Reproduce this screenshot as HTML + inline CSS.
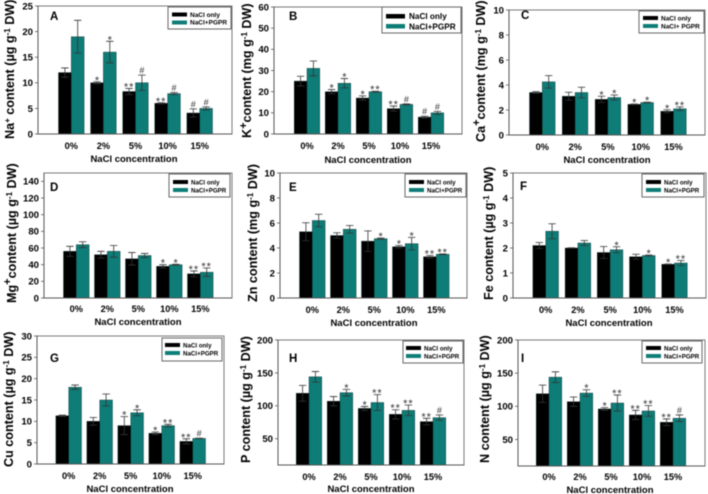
<!DOCTYPE html>
<html lang="en">
<head>
<meta charset="utf-8">
<title>NaCl and PGPR mineral content panels</title>
<style>
html,body{margin:0;padding:0;background:#fff;width:708px;height:494px;overflow:hidden}
svg{display:block;filter:blur(0.45px)}
text{font-family:"Liberation Sans",Arial,sans-serif;fill:#000}
.yt{font-size:12.6px;font-weight:700;letter-spacing:0}
.xt{font-size:9.5px;font-weight:700}
.lg{font-size:6.5px;font-weight:700}
.pl{font-size:11.5px;font-weight:700}
.lb{fill:#fff;stroke:#666;stroke-width:1}
.sw0{fill:#000}
.sw1{fill:#0e7c77}
</style>
</head>
<body>
<svg id="fig" xmlns="http://www.w3.org/2000/svg" width="708" height="494" viewBox="0 0 708 494">
<rect width="708" height="494" fill="#fff"/>
<g id="plots"></g>

<g>
<text class="pl" x="50" y="20">A</text>
<text class="xt" x="134" y="162" text-anchor="middle">NaCl concentration</text>
<text class="yt" transform="translate(14,139) rotate(-90)">Na<tspan dy="-4" font-size="8">+</tspan><tspan dy="4"> content (µg g</tspan><tspan dy="-4" font-size="8">-1</tspan><tspan dy="4"> DW)</tspan></text>
<g><rect class="lb" x="168" y="7" width="63" height="22"/><rect class="sw0" x="172" y="12.5" width="15" height="4"/><rect class="sw1" x="172" y="20.5" width="15" height="4"/><text class="lg" x="190" y="17">NaCl only</text><text class="lg" x="190" y="24.6">NaCl+PGPR</text></g>
</g>

<g>
<text class="pl" x="289" y="20">B</text>
<text class="xt" x="368" y="163" text-anchor="middle">NaCl concentration</text>
<text class="yt" transform="translate(251,138) rotate(-90)">K<tspan dy="-4" font-size="11">+</tspan><tspan dy="4">content (mg g</tspan><tspan dy="-4" font-size="8">-1</tspan><tspan dy="4"> DW)</tspan></text>
<g><rect class="lb" x="382" y="7" width="79" height="26"/><rect class="sw0" x="386" y="14" width="19" height="4.5"/><rect class="sw1" x="386" y="24" width="19" height="4.5"/><text class="lg" style="font-size:8.2px" x="409" y="19">NaCl only</text><text class="lg" style="font-size:8.2px" x="409" y="29.5">NaCl+PGPR</text></g>
</g>

<g>
<text class="pl" x="521" y="19">C</text>
<text class="xt" x="607" y="163" text-anchor="middle">NaCl concentration</text>
<text class="yt" transform="translate(485,142) rotate(-90)">Ca<tspan dy="-5" font-size="11">+</tspan><tspan dy="5">content (mg g</tspan><tspan dy="-4" font-size="8">-1</tspan><tspan dy="4"> DW)</tspan></text>
<g><rect class="lb" x="639" y="11" width="65" height="22"/><rect class="sw0" x="643" y="16" width="15" height="4"/><rect class="sw1" x="643" y="24" width="15" height="4"/><text class="lg" x="661" y="20.6">NaCl only</text><text class="lg" x="661" y="28.6">NaCl+ PGPR</text></g>
</g>

<g>
<text class="pl" x="50" y="191">D</text>
<text class="xt" x="138" y="325" text-anchor="middle">NaCl concentration</text>
<text class="yt" transform="translate(16,303) rotate(-90)">Mg<tspan dy="-5" font-size="11">+</tspan><tspan dy="5">content (µg g</tspan><tspan dy="-4" font-size="8">-1</tspan><tspan dy="4"> DW)</tspan></text>
<g><rect class="lb" x="169" y="174" width="61" height="23"/><rect class="sw0" x="173" y="180" width="15" height="4"/><rect class="sw1" x="173" y="188" width="15" height="4"/><text class="lg" style="font-size:6.2px" x="191" y="184.5">NaCl only</text><text class="lg" style="font-size:6.2px" x="191" y="192.5">NaCl+PGPR</text></g>
</g>

<g>
<text class="pl" x="289" y="191">E</text>
<text class="xt" x="374" y="326" text-anchor="middle">NaCl concentration</text>
<text class="yt" transform="translate(257,302) rotate(-90)">Zn content (mg g<tspan dy="-4" font-size="8">-1</tspan><tspan dy="4"> DW)</tspan></text>
<g><rect class="lb" x="405" y="174" width="61" height="23"/><rect class="sw0" x="409" y="180" width="15" height="4"/><rect class="sw1" x="409" y="188" width="15" height="4"/><text class="lg" style="font-size:6.2px" x="427" y="184.5">NaCl only</text><text class="lg" style="font-size:6.2px" x="427" y="192.5">NaCl+PGPR</text></g>
</g>

<g>
<text class="pl" x="520" y="190">F</text>
<text class="xt" x="609" y="326" text-anchor="middle">NaCl concentration</text>
<text class="yt" transform="translate(493,300) rotate(-90)">Fe content (µg g<tspan dy="-4" font-size="8">-1</tspan><tspan dy="4"> DW)</tspan></text>
<g><rect class="lb" x="642" y="174" width="62" height="23"/><rect class="sw0" x="646" y="180" width="15" height="4"/><rect class="sw1" x="646" y="188" width="15" height="4"/><text class="lg" style="font-size:6.2px" x="664" y="184.5">NaCl only</text><text class="lg" style="font-size:6.2px" x="664" y="192.5">NaCl+PGPR</text></g>
</g>

<g>
<text class="pl" x="50" y="362">G</text>
<text class="xt" x="130" y="492" text-anchor="middle">NaCl concentration</text>
<text class="yt" transform="translate(13,467) rotate(-90)">Cu content (µg g<tspan dy="-4" font-size="8">-1</tspan><tspan dy="4"> DW)</tspan></text>
<g><rect class="lb" x="162" y="338" width="60" height="23"/><rect class="sw0" x="165" y="343" width="15" height="4"/><rect class="sw1" x="165" y="351" width="15" height="4"/><text class="lg" style="font-size:6.2px" x="183" y="347.5">NaCl only</text><text class="lg" style="font-size:6.2px" x="183" y="355.5">NaCl+PGPR</text></g>
</g>

<g>
<text class="pl" x="289" y="362">H</text>
<text class="xt" x="371" y="492" text-anchor="middle">NaCl concentration</text>
<text class="yt" transform="translate(250,463) rotate(-90)">P content (µg g<tspan dy="-4" font-size="8">-1</tspan><tspan dy="4"> DW)</tspan></text>
<g><rect class="lb" x="403" y="341" width="60" height="22"/><rect class="sw0" x="406" y="346" width="15" height="4"/><rect class="sw1" x="406" y="354" width="15" height="4"/><text class="lg" style="font-size:6.2px" x="424" y="350.5">NaCl only</text><text class="lg" style="font-size:6.2px" x="424" y="358.5">NaCl+PGPR</text></g>
</g>

<g>
<text class="pl" x="521" y="362">I</text>
<text class="xt" x="610" y="493" text-anchor="middle">NaCl concentration</text>
<text class="yt" transform="translate(489,463) rotate(-90)">N content (µg g<tspan dy="-4" font-size="8">-1</tspan><tspan dy="4"> DW)</tspan></text>
<g><rect class="lb" x="642" y="341" width="60" height="22"/><rect class="sw0" x="646" y="346" width="15" height="4"/><rect class="sw1" x="646" y="354" width="15" height="4"/><text class="lg" style="font-size:6.2px" x="664" y="350.5">NaCl only</text><text class="lg" style="font-size:6.2px" x="664" y="358.5">NaCl+PGPR</text></g>
</g>
</svg>

<script>
const categories = ['0%', '2%', '5%', '10%', '15%'];

const naOnly = [12, 10, 8.3, 6, 4.1];
const naOnlyErr = [0.9, 0.2, 0.6, 0.1, 0.8];
const naPgpr = [19, 16, 10, 7.9, 5];
const naPgprErr = [3.2, 2.1, 1.5, 0.2, 0.3];
const naOnlyMarks = ['', '*', '**', '**', '#'];
const naPgprMarks = ['', '*', '#', '#', '#'];
const naTicks = [0, 5, 10, 15, 20, 25];

const kOnly = [25, 20, 17, 12, 8];
const kOnlyErr = [2.3, 1, 1, 1.2, 0.4];
const kPgpr = [31, 24, 20, 14, 10];
const kPgprErr = [3.5, 2.2, 0.2, 0.2, 0.7];
const kOnlyMarks = ['', '*', '*', '**', '#'];
const kPgprMarks = ['', '*', '**', '#', '#'];
const kTicks = [0, 10, 20, 30, 40, 50, 60];

const caOnly = [3.4, 3.1, 2.85, 2.45, 1.9];
const caOnlyErr = [0.07, 0.32, 0.25, 0.03, 0.12];
const caPgpr = [4.25, 3.4, 3, 2.6, 2.1];
const caPgprErr = [0.5, 0.42, 0.2, 0.03, 0.15];
const caOnlyMarks = ['', '', '*', '*', '*'];
const caPgprMarks = ['', '', '*', '*', '**'];
const caTicks = [0, 2, 4, 6, 8, 10];

const mgOnly = [56, 52, 47, 38, 29];
const mgOnlyErr = [6, 4, 7.5, 2, 3.5];
const mgPgpr = [64, 56, 51, 40, 31];
const mgPgprErr = [3.5, 7, 2.5, 0.5, 5];
const mgOnlyMarks = ['', '', '', '*', '**'];
const mgPgprMarks = ['', '', '', '*', '**'];
const mgTicks = [0, 20, 40, 60, 80, 100, 120, 140];

const znOnly = [5.3, 5, 4.55, 4.1, 3.3];
const znOnlyErr = [0.72, 0.22, 0.82, 0.1, 0.1];
const znPgpr = [6.2, 5.5, 4.75, 4.35, 3.5];
const znPgprErr = [0.5, 0.3, 0.05, 0.5, 0.03];
const znOnlyMarks = ['', '', '', '*', '**'];
const znPgprMarks = ['', '', '*', '*', '**'];
const znTicks = [0, 2, 4, 6, 8, 10];

const feOnly = [2.1, 2, 1.82, 1.65, 1.35];
const feOnlyErr = [0.12, 0.01, 0.24, 0.1, 0.01];
const fePgpr = [2.67, 2.2, 1.93, 1.7, 1.4];
const fePgprErr = [0.3, 0.1, 0.12, 0.02, 0.1];
const feOnlyMarks = ['', '', '', '', '*'];
const fePgprMarks = ['', '', '*', '*', '**'];
const feTicks = [0, 1, 2, 3, 4, 5];

const cuOnly = [11.3, 10, 9, 7.2, 5.3];
const cuOnlyErr = [0.15, 0.9, 2.1, 0.3, 0.6];
const cuPgpr = [18, 15, 12, 9, 6];
const cuPgprErr = [0.5, 1.4, 0.7, 0.3, 0.05];
const cuOnlyMarks = ['', '', '*', '*', '**'];
const cuPgprMarks = ['', '', '*', '**', '#'];
const cuTicks = [0, 5, 10, 15, 20, 25, 30];

const pOnly = [119, 107, 96, 87, 76];
const pOnlyErr = [12, 7, 3, 7, 5];
const pPgpr = [144, 120, 105, 93, 82];
const pPgprErr = [8, 5, 12, 8, 4];
const pOnlyMarks = ['', '', '*', '**', '**'];
const pPgprMarks = ['', '*', '**', '**', '#'];
const pTicks = [50, 100, 150, 200];

const nOnly = [119, 107, 96, 87, 76];
const nOnlyErr = [13, 7, 2, 7, 5];
const nPgpr = [144, 120, 105, 93, 82];
const nPgprErr = [8, 5, 12, 8, 5];
const nOnlyMarks = ['', '', '*', '**', '**'];
const nPgprMarks = ['', '*', '**', '**', '#'];
const nTicks = [50, 100, 150, 200];

const panels = [
  {only: naOnly, onlyErr: naOnlyErr, pgpr: naPgpr, pgprErr: naPgprErr, onlyMarks: naOnlyMarks, pgprMarks: naPgprMarks, ticks: naTicks, yMin: 0, yMax: 25, left: 38, right: 232, top: 6, bottom: 134, center: 71.3, step: 32.1, tickY: 149},
  {only: kOnly, onlyErr: kOnlyErr, pgpr: kPgpr, pgprErr: kPgprErr, onlyMarks: kOnlyMarks, pgprMarks: kPgprMarks, ticks: kTicks, yMin: 0, yMax: 60, left: 274, right: 462, top: 7, bottom: 134, center: 307, step: 31, tickY: 149},
  {only: caOnly, onlyErr: caOnlyErr, pgpr: caPgpr, pgprErr: caPgprErr, onlyMarks: caOnlyMarks, pgprMarks: caPgprMarks, ticks: caTicks, yMin: 0, yMax: 10, left: 509, right: 705, top: 10, bottom: 135, center: 542.3, step: 32.8, tickY: 150},
  {only: mgOnly, onlyErr: mgOnlyErr, pgpr: mgPgpr, pgprErr: mgPgprErr, onlyMarks: mgOnlyMarks, pgprMarks: mgPgprMarks, ticks: mgTicks, yMin: 0, yMax: 150, left: 44, right: 232, top: 173, bottom: 298, center: 76.3, step: 31, tickY: 312},
  {only: znOnly, onlyErr: znOnlyErr, pgpr: znPgpr, pgprErr: znPgprErr, onlyMarks: znOnlyMarks, pgprMarks: znPgprMarks, ticks: znTicks, yMin: 0, yMax: 10, left: 280, right: 467, top: 173, bottom: 298, center: 312.3, step: 31, tickY: 313},
  {only: feOnly, onlyErr: feOnlyErr, pgpr: fePgpr, pgprErr: fePgprErr, onlyMarks: feOnlyMarks, pgprMarks: fePgprMarks, ticks: feTicks, yMin: 0, yMax: 5, left: 513, right: 706, top: 173, bottom: 298, center: 545.7, step: 32.2, tickY: 313},
  {only: cuOnly, onlyErr: cuOnlyErr, pgpr: cuPgpr, pgprErr: cuPgprErr, onlyMarks: cuOnlyMarks, pgprMarks: cuPgprMarks, ticks: cuTicks, yMin: 0, yMax: 30, left: 37, right: 224, top: 336, bottom: 464, center: 68.7, step: 31, tickY: 479},
  {only: pOnly, onlyErr: pOnlyErr, pgpr: pPgpr, pgprErr: pPgprErr, onlyMarks: pOnlyMarks, pgprMarks: pPgprMarks, ticks: pTicks, yMin: 10, yMax: 200, left: 278, right: 464, top: 340, bottom: 465, center: 309, step: 31, tickY: 480},
  {only: nOnly, onlyErr: nOnlyErr, pgpr: nPgpr, pgprErr: nPgprErr, onlyMarks: nOnlyMarks, pgprMarks: nPgprMarks, ticks: nTicks, yMin: 10, yMax: 200, left: 518, right: 705, top: 340, bottom: 466, center: 549, step: 31, tickY: 480}
];

const NS = 'http://www.w3.org/2000/svg';
const BAR_W = 12.8;
const CAP = 3.7;
const root = document.getElementById('plots');

function make(parent, tag, attrs, txt) {
  const el = document.createElementNS(NS, tag);
  for (const k in attrs) el.setAttribute(k, attrs[k]);
  if (txt !== undefined) el.textContent = txt;
  parent.appendChild(el);
  return el;
}

function drawSeries(g, p, y, base, values, errs, marks, offset, fill) {
  values.forEach(function (v, i) {
    const x = p.center + i * p.step + offset;
    const bar = make(g, 'rect', {x: x, y: y(v), width: BAR_W, height: base - y(v), fill: fill, stroke: '#0a2f2d', 'stroke-width': 0.4});
    
    
    const cx = x + BAR_W / 2;
    const hi = y(v + errs[i]);
    const lo = y(v - errs[i]);
    const err = make(g, 'path', {d: 'M' + cx + ' ' + lo + 'V' + hi + 'M' + (cx - CAP) + ' ' + hi + 'H' + (cx + CAP) + 'M' + (cx - CAP) + ' ' + lo + 'H' + (cx + CAP), fill: 'none', stroke: '#333', 'stroke-width': 0.8});
    
    
    if (marks[i]) {
      const isHash = marks[i] === '#';
      const mark = make(g, 'text', {x: cx, y: hi - (isHash ? 1.5 : -2), 'text-anchor': 'middle', style: 'font-size:' + (isHash ? 9 : 11) + 'px;letter-spacing:' + (marks[i] === '**' ? 1 : 0) + 'px;fill:#333'}, marks[i]);
      
      
    }
  });
}

panels.forEach(function (p) {
  const y = function (v) {
    return p.bottom - (v - p.yMin) / (p.yMax - p.yMin) * (p.bottom - p.top);
  };
  const g = make(root, 'g', {});
  
  

  const frame = make(g, 'rect', {x: p.left, y: p.top, width: p.right - p.left, height: p.bottom - p.top, fill: 'none', stroke: '#777', 'stroke-width': 1});
  
  

  drawSeries(g, p, y, p.bottom, p.only, p.onlyErr, p.onlyMarks, -BAR_W, '#000');
  drawSeries(g, p, y, p.bottom, p.pgpr, p.pgprErr, p.pgprMarks, 0, '#0e7c77');

  const axis = make(g, 'path', {d: 'M' + p.left + ' ' + p.top + 'V' + p.bottom + 'H' + p.right, fill: 'none', stroke: '#555', 'stroke-width': 1});
  
  

  p.ticks.forEach(function (t) {
    const tick = make(g, 'line', {x1: p.left - 3, x2: p.left, y1: y(t), y2: y(t), stroke: '#555', 'stroke-width': 0.8});
    
    
    const label = make(g, 'text', {x: p.left - 5, y: y(t) + 3.4, 'text-anchor': 'end', style: 'font-size:9.6px;font-weight:700'}, String(t));
    
    
  });

  categories.forEach(function (c, i) {
    const label = make(g, 'text', {x: p.center + i * p.step, y: p.tickY, 'text-anchor': 'middle', style: 'font-size:9.2px;font-weight:700'}, c);
    
    
  });
});
</script>
</body>
</html>
